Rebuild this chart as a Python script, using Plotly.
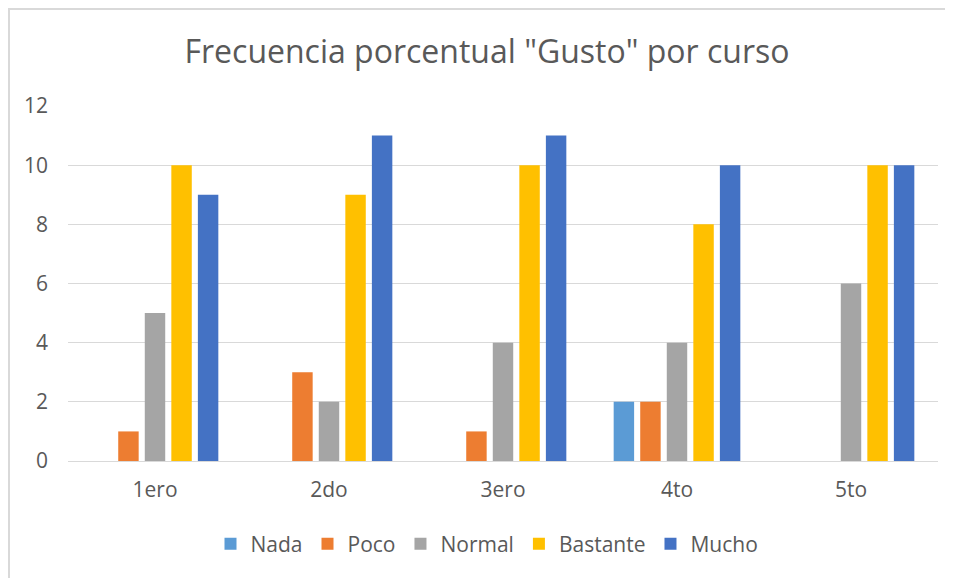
import plotly.graph_objects as go

categories = ["1ero", "2do", "3ero", "4to", "5to"]
series_names = ["Nada", "Poco", "Normal", "Bastante", "Mucho"]
nada = [0, 0, 0, 2, 0]
poco = [1, 3, 1, 2, 0]
normal = [5, 2, 4, 4, 6]
bastante = [10, 9, 10, 8, 10]
mucho = [9, 11, 11, 10, 10]
colors = ["#5B9BD5", "#ED7D31", "#A5A5A5", "#FFC000", "#4472C4"]

values = [nada, poco, normal, bastante, mucho]
FONT = "Open Sans"
GRAY = "#595959"

fig = go.Figure()
for name, vals, col in zip(series_names, values, colors):
    fig.add_trace(go.Bar(name=name, x=categories, y=vals, marker=dict(color=col, line=dict(width=0))))

# page body has an 8px margin; layout coordinates below are in div pixels
W, H = 945, 570
L, R, T, B = 60, 15, 98, 117
pw, ph = W - L - R, H - T - B

def px_x(px):
    return (px - L) / pw

def px_y(py):
    return (H - B - py) / ph

fig.update_layout(
    width=W, height=H,
    margin=dict(l=L, r=R, t=T, b=B),
    paper_bgcolor="white", plot_bgcolor="white",
    barmode="group", bargap=0.237, bargroupgap=0.23,
    font=dict(family=FONT, color=GRAY, size=21),
    title=dict(text='Frecuencia porcentual "Gusto" por curso', x=px_x(479), xref="paper",
               xanchor="center", y=1 - 44 / H, yanchor="middle",
               font=dict(size=32, color=GRAY, family=FONT)),
    xaxis=dict(showgrid=False, showline=False, ticks="", tickfont=dict(size=21, color=GRAY),
               ticklabelstandoff=14),
    yaxis=dict(range=[0, 12], dtick=2, showgrid=True, gridcolor="#D9D9D9", gridwidth=1,
               zeroline=True, zerolinecolor="#D9D9D9", zerolinewidth=1, showline=False,
               ticks="", tickfont=dict(size=21, color=GRAY), ticklabelstandoff=19),
    legend=dict(orientation="h", x=px_x(479), xanchor="center", y=px_y(536), yanchor="middle",
                font=dict(size=21, color=GRAY), itemwidth=30, traceorder="normal"),
    showlegend=True,
    shapes=[
        dict(type="line", xref="paper", yref="paper", x0=px_x(0), x1=px_x(W + 5), y0=px_y(1), y1=px_y(1),
             line=dict(color="#D9D9D9", width=2)),
        dict(type="line", xref="paper", yref="paper", x0=px_x(1), x1=px_x(1), y0=px_y(0), y1=px_y(H + 5),
             line=dict(color="#D9D9D9", width=2)),
    ],
)

fig.write_html("out.html")
